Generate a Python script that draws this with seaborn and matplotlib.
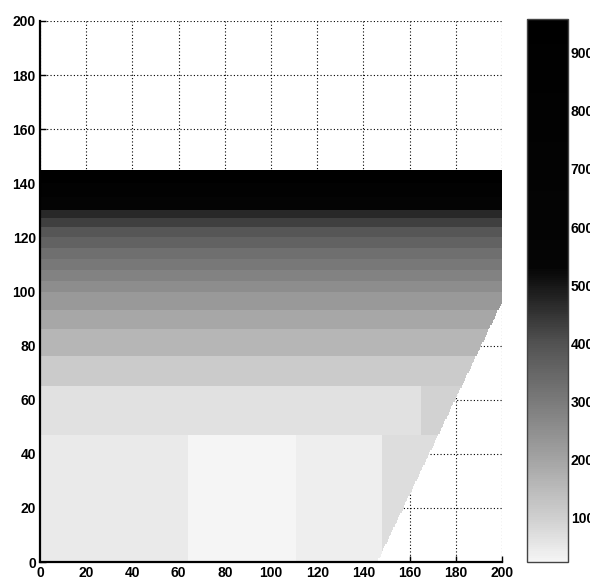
import numpy as np
import pandas as pd
import matplotlib
matplotlib.use("Agg")
import matplotlib.pyplot as plt
import seaborn as sns
from matplotlib.colors import LinearSegmentedColormap

# ---------------- data ----------------
# horizontal layers: bottom edge of each layer (y) and its value
layer_bottoms = [0, 47, 65, 76, 86, 93, 100, 104, 108, 112, 116, 120, 124, 127, 130, 135, 140]
layer_values = [35, 65, 110, 160, 195, 225, 255, 280, 305, 330, 360, 390, 430, 470, 580, 760, 940]
layer_top = 145

# lowest layer (y 0-47) varies along x
low_x_edges = [0, 64, 111, 148, 200]
low_values = [48, 24, 42, 75]
# second layer (y 47-65) varies along x
mid_x_edges = [0, 165, 200]
mid_values = [65, 95]

# slanted right boundary of the domain
edge_x = [146, 200]
edge_y = [0, 96]

x_ticks = list(range(0, 201, 20))
y_ticks = list(range(0, 201, 20))
cbar_ticks = [100, 200, 300, 400, 500, 600, 700, 800, 900]
vmin, vmax = 24, 958

# colormap knots (value -> gray level)
cmap_values = [24, 60, 100, 150, 200, 300, 400, 460, 530, 958]
cmap_grays = [0.96, 0.89, 0.81, 0.73, 0.64, 0.48, 0.32, 0.18, 0.02, 0.0]

# ---------------- field ----------------
cell = 0.5
n = int(200 / cell)
xc = (np.arange(n) + 0.5) * cell
yc = (np.arange(n) + 0.5) * cell
X, Y = np.meshgrid(xc, yc)

lb = np.array(layer_bottoms)
lv = np.array(layer_values, dtype=float)
idx = np.clip(np.searchsorted(lb, Y, side="right") - 1, 0, len(lv) - 1)
Z = lv[idx]

low = (Y >= layer_bottoms[0]) & (Y < layer_bottoms[1])
for i in range(len(low_values)):
    m = low & (X >= low_x_edges[i]) & (X < low_x_edges[i + 1])
    Z[m] = low_values[i]
mid = (Y >= layer_bottoms[1]) & (Y < layer_bottoms[2])
for i in range(len(mid_values)):
    m = mid & (X >= mid_x_edges[i]) & (X < mid_x_edges[i + 1])
    Z[m] = mid_values[i]

slope = (edge_x[1] - edge_x[0]) / (edge_y[1] - edge_y[0])
outside = (Y >= layer_top) | (X > edge_x[0] + slope * Y)
Z[outside] = np.nan
df = pd.DataFrame(Z)

# ---------------- style ----------------
sns.set_theme(style="white")
plt.rcParams["font.family"] = ["Liberation Sans", "DejaVu Sans"]
plt.rcParams["font.weight"] = "bold"

pos = [(v - vmin) / (vmax - vmin) for v in cmap_values]
cmap = LinearSegmentedColormap.from_list(
    "matgray", [(p, (g, g, g)) for p, g in zip(pos, cmap_grays)], N=256)

fig = plt.figure(figsize=(5.9, 5.84), dpi=100)
ax = fig.add_axes([40 / 590, 1 - 562 / 584, 462 / 590, 541 / 584])
cax = fig.add_axes([527 / 590, 1 - 562 / 584, 41 / 590, 543 / 584])

sns.heatmap(df, ax=ax, cmap=cmap, vmin=vmin, vmax=vmax, cbar=True, cbar_ax=cax,
            xticklabels=False, yticklabels=False, rasterized=True)

ax.set_xlim(0, n)
ax.set_ylim(0, n)
ax.set_xticks([t / cell for t in x_ticks])
ax.set_xticklabels([str(t) for t in x_ticks], fontsize=10, fontweight="bold")
ax.set_yticks([t / cell for t in y_ticks])
ax.set_yticklabels([str(t) for t in y_ticks], fontsize=10, fontweight="bold", rotation=0)
ax.set_xlabel("")
ax.set_ylabel("")
ax.set_axisbelow(True)
ax.grid(True, color="black", linestyle=(0, (1, 2)), linewidth=0.8)
ax.tick_params(axis="both", direction="in", length=4, width=1, color="black",
               bottom=True, left=True, top=False, right=False, pad=3,
               labelcolor="black")
for s in ["left", "bottom"]:
    ax.spines[s].set_visible(True)
    ax.spines[s].set_color("black")
    ax.spines[s].set_linewidth(1.6)
for s in ["top", "right"]:
    ax.spines[s].set_visible(False)

cb = ax.collections[0].colorbar
cb.set_ticks(cbar_ticks)
cb.set_ticklabels([str(t) for t in cbar_ticks])
cb.outline.set_visible(True)
cb.outline.set_edgecolor("#444444")
cb.outline.set_linewidth(1.0)
cax.tick_params(direction="in", length=3, width=1, color="black", left=True,
                right=True, labelsize=10, pad=2, labelcolor="black")
for lab in cax.get_yticklabels():
    lab.set_fontweight("bold")

fig.savefig("out.png", dpi=100)
